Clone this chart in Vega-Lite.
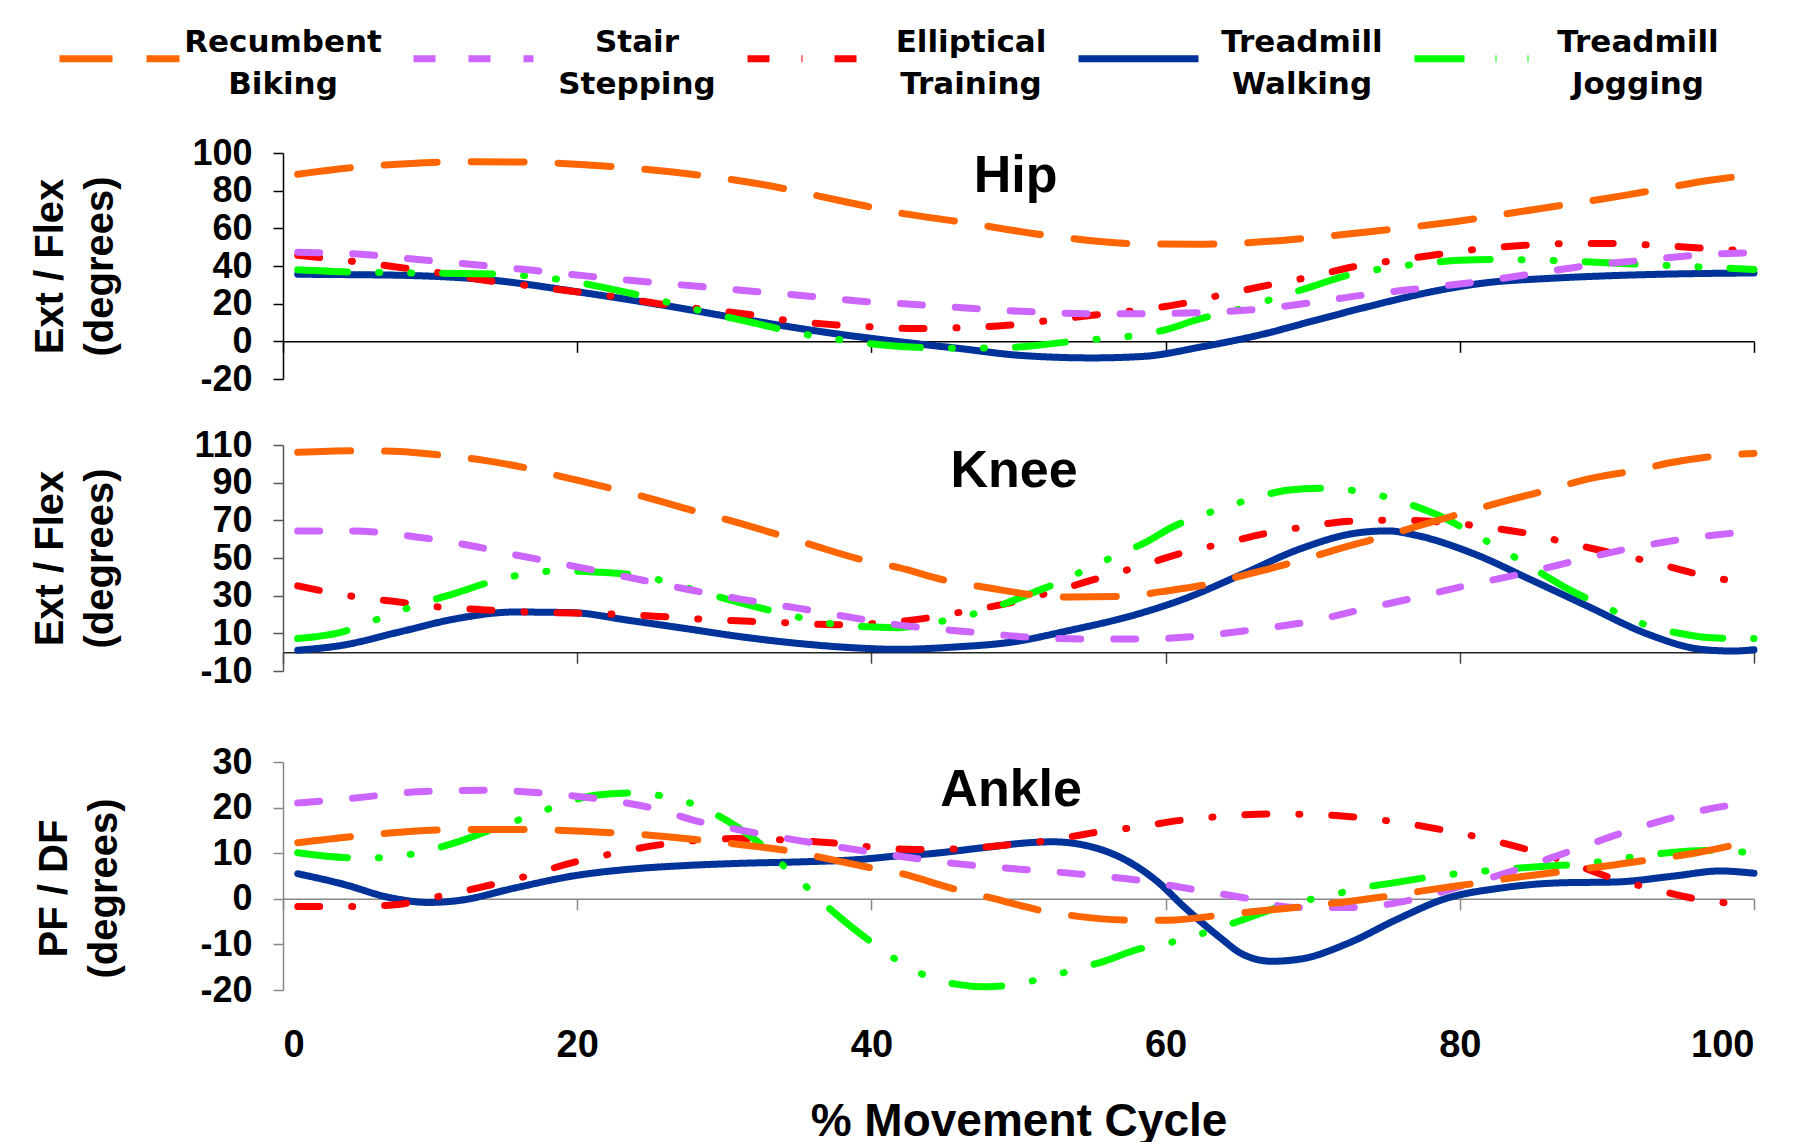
{
"$schema": "https://vega.github.io/schema/vega-lite/v6.json",
"background": "white",
"padding": {"left": 30, "top": -5, "right": 5, "bottom": 0},
"config": {
  "view": {"stroke": null},
  "style": {"guide-label": {"lineHeight": 42}},
  "axis": {"grid": false, "labelOverlap": false, "labelFont": "Liberation Sans", "labelFontWeight": "bold", "labelColor": "#000", "titleFont": "Liberation Sans", "titleFontWeight": "bold", "titleColor": "#000", "domainWidth": 1.5, "tickWidth": 1.5},
  "legend": {"padding": 0, "symbolType": "stroke", "symbolSize": 14400, "symbolStrokeWidth": 7, "labelFont": "DejaVu Sans", "labelFontWeight": "bold", "labelFontSize": 31, "labelColor": "#000", "labelAlign": "center", "labelBaseline": "bottom", "labelOffset": 100, "labelLimit": 400, "columnPadding": 28},
  "line": {"strokeWidth": 7, "strokeCap": "round", "strokeJoin": "round", "interpolate": "monotone"}
},
"datasets": {
"hip": [
{"act":"Treadmill Walking","pct":1,"deg":35.6},{"act":"Treadmill Walking","pct":4.5,"deg":35.4},{"act":"Treadmill Walking","pct":8.4,"deg":35},{"act":"Treadmill Walking","pct":14.3,"deg":32.4},{"act":"Treadmill Walking","pct":20.1,"deg":26.2},{"act":"Treadmill Walking","pct":25.9,"deg":19.1},{"act":"Treadmill Walking","pct":31.7,"deg":11.2},{"act":"Treadmill Walking","pct":37.5,"deg":4.1},{"act":"Treadmill Walking","pct":42.2,"deg":-0.5},{"act":"Treadmill Walking","pct":46.1,"deg":-3.9},{"act":"Treadmill Walking","pct":50,"deg":-7.4},{"act":"Treadmill Walking","pct":55,"deg":-8.8},{"act":"Treadmill Walking","pct":58.5,"deg":-8},{"act":"Treadmill Walking","pct":62.4,"deg":-3},{"act":"Treadmill Walking","pct":66.3,"deg":3.2},{"act":"Treadmill Walking","pct":70.2,"deg":11.2},{"act":"Treadmill Walking","pct":74.1,"deg":19.1},{"act":"Treadmill Walking","pct":78,"deg":26.2},{"act":"Treadmill Walking","pct":81.9,"deg":31.2},{"act":"Treadmill Walking","pct":85.8,"deg":33.3},{"act":"Treadmill Walking","pct":89.7,"deg":34.7},{"act":"Treadmill Walking","pct":93.5,"deg":35.6},{"act":"Treadmill Walking","pct":100,"deg":36.3},
{"act":"Elliptical Training","pct":1,"deg":45.7},{"act":"Elliptical Training","pct":4.7,"deg":42.5},{"act":"Elliptical Training","pct":7.7,"deg":39.5},{"act":"Elliptical Training","pct":10.7,"deg":36.3},{"act":"Elliptical Training","pct":13.7,"deg":32.4},{"act":"Elliptical Training","pct":16.5,"deg":29.7},{"act":"Elliptical Training","pct":19.5,"deg":26.7},{"act":"Elliptical Training","pct":22.4,"deg":23.9},{"act":"Elliptical Training","pct":25.5,"deg":20},{"act":"Elliptical Training","pct":28.3,"deg":17.3},{"act":"Elliptical Training","pct":31.3,"deg":14.7},{"act":"Elliptical Training","pct":34.2,"deg":11.2},{"act":"Elliptical Training","pct":37.1,"deg":9},{"act":"Elliptical Training","pct":40.2,"deg":7.6},{"act":"Elliptical Training","pct":43,"deg":6.8},{"act":"Elliptical Training","pct":46.3,"deg":7.3},{"act":"Elliptical Training","pct":49.2,"deg":8.5},{"act":"Elliptical Training","pct":52.2,"deg":11.2},{"act":"Elliptical Training","pct":55,"deg":13.8},{"act":"Elliptical Training","pct":58.1,"deg":16.5},{"act":"Elliptical Training","pct":61.1,"deg":20},{"act":"Elliptical Training","pct":64,"deg":25},{"act":"Elliptical Training","pct":66.9,"deg":29.7},{"act":"Elliptical Training","pct":69.8,"deg":34.2},{"act":"Elliptical Training","pct":72.7,"deg":39.5},{"act":"Elliptical Training","pct":75.6,"deg":43},{"act":"Elliptical Training","pct":78.6,"deg":46.2},{"act":"Elliptical Training","pct":81.5,"deg":49.2},{"act":"Elliptical Training","pct":84.4,"deg":51},{"act":"Elliptical Training","pct":87.4,"deg":51.9},{"act":"Elliptical Training","pct":90.4,"deg":51.9},{"act":"Elliptical Training","pct":93.3,"deg":51},{"act":"Elliptical Training","pct":96.3,"deg":49.6},{"act":"Elliptical Training","pct":99.5,"deg":48},
{"act":"Treadmill Jogging","pct":1,"deg":38},{"act":"Treadmill Jogging","pct":4.6,"deg":36.8},{"act":"Treadmill Jogging","pct":9.2,"deg":36.3},{"act":"Treadmill Jogging","pct":13.1,"deg":35.9},{"act":"Treadmill Jogging","pct":15,"deg":35.6},{"act":"Treadmill Jogging","pct":17.4,"deg":34.2},{"act":"Treadmill Jogging","pct":19.5,"deg":32},{"act":"Treadmill Jogging","pct":21.6,"deg":28.9},{"act":"Treadmill Jogging","pct":24.9,"deg":23.2},{"act":"Treadmill Jogging","pct":27.4,"deg":18.2},{"act":"Treadmill Jogging","pct":29.4,"deg":14.3},{"act":"Treadmill Jogging","pct":31.7,"deg":10.3},{"act":"Treadmill Jogging","pct":35.2,"deg":4.1},{"act":"Treadmill Jogging","pct":37.4,"deg":1.4},{"act":"Treadmill Jogging","pct":39.5,"deg":-0.9},{"act":"Treadmill Jogging","pct":42,"deg":-2.7},{"act":"Treadmill Jogging","pct":45.7,"deg":-3.7},{"act":"Treadmill Jogging","pct":47.7,"deg":-3.5},{"act":"Treadmill Jogging","pct":50,"deg":-3},{"act":"Treadmill Jogging","pct":53.9,"deg":0.2},{"act":"Treadmill Jogging","pct":58,"deg":3.2},{"act":"Treadmill Jogging","pct":60.1,"deg":6.4},{"act":"Treadmill Jogging","pct":62,"deg":11.2},{"act":"Treadmill Jogging","pct":65.5,"deg":18.2},{"act":"Treadmill Jogging","pct":67.9,"deg":24.1},{"act":"Treadmill Jogging","pct":70,"deg":29.2},{"act":"Treadmill Jogging","pct":72.1,"deg":34.5},{"act":"Treadmill Jogging","pct":75.6,"deg":39.5},{"act":"Treadmill Jogging","pct":77.8,"deg":41.6},{"act":"Treadmill Jogging","pct":80,"deg":43},{"act":"Treadmill Jogging","pct":82.3,"deg":43.4},{"act":"Treadmill Jogging","pct":86.1,"deg":43},{"act":"Treadmill Jogging","pct":90.3,"deg":41.6},{"act":"Treadmill Jogging","pct":92.4,"deg":40.9},{"act":"Treadmill Jogging","pct":96.3,"deg":39.5},{"act":"Treadmill Jogging","pct":100,"deg":38.2},
{"act":"Stair Stepping","pct":1,"deg":47.3},{"act":"Stair Stepping","pct":5.3,"deg":46.2},{"act":"Stair Stepping","pct":9.2,"deg":43.4},{"act":"Stair Stepping","pct":13.1,"deg":40.7},{"act":"Stair Stepping","pct":17,"deg":37.7},{"act":"Stair Stepping","pct":20.9,"deg":34.5},{"act":"Stair Stepping","pct":24.3,"deg":31.9},{"act":"Stair Stepping","pct":28.2,"deg":29.2},{"act":"Stair Stepping","pct":31.7,"deg":26.7},{"act":"Stair Stepping","pct":35.6,"deg":24.1},{"act":"Stair Stepping","pct":39.5,"deg":21.2},{"act":"Stair Stepping","pct":42.2,"deg":20},{"act":"Stair Stepping","pct":47.2,"deg":17.3},{"act":"Stair Stepping","pct":51.1,"deg":15.6},{"act":"Stair Stepping","pct":55,"deg":14.7},{"act":"Stair Stepping","pct":58.5,"deg":14.7},{"act":"Stair Stepping","pct":62.4,"deg":15.2},{"act":"Stair Stepping","pct":65.9,"deg":16.8},{"act":"Stair Stepping","pct":69.8,"deg":20.4},{"act":"Stair Stepping","pct":73.3,"deg":24.4},{"act":"Stair Stepping","pct":77.2,"deg":28},{"act":"Stair Stepping","pct":81.1,"deg":31.5},{"act":"Stair Stepping","pct":85,"deg":35.9},{"act":"Stair Stepping","pct":88.9,"deg":40.4},{"act":"Stair Stepping","pct":92.4,"deg":43},{"act":"Stair Stepping","pct":95.9,"deg":45.7},{"act":"Stair Stepping","pct":100,"deg":47},
{"act":"Recumbent Biking","pct":1,"deg":88.7},{"act":"Recumbent Biking","pct":4.4,"deg":92},{"act":"Recumbent Biking","pct":8.4,"deg":94.3},{"act":"Recumbent Biking","pct":12.3,"deg":95.4},{"act":"Recumbent Biking","pct":16.4,"deg":95.2},{"act":"Recumbent Biking","pct":20.5,"deg":93.8},{"act":"Recumbent Biking","pct":26.5,"deg":89.9},{"act":"Recumbent Biking","pct":32.3,"deg":83.7},{"act":"Recumbent Biking","pct":38.3,"deg":74},{"act":"Recumbent Biking","pct":42.2,"deg":67.8},{"act":"Recumbent Biking","pct":46.1,"deg":63.4},{"act":"Recumbent Biking","pct":51.9,"deg":56.3},{"act":"Recumbent Biking","pct":57.7,"deg":51.9},{"act":"Recumbent Biking","pct":62,"deg":51.5},{"act":"Recumbent Biking","pct":67.9,"deg":53.6},{"act":"Recumbent Biking","pct":73.7,"deg":58.1},{"act":"Recumbent Biking","pct":79.5,"deg":63.4},{"act":"Recumbent Biking","pct":85.4,"deg":70.4},{"act":"Recumbent Biking","pct":91.2,"deg":77.5},{"act":"Recumbent Biking","pct":97,"deg":85.5},{"act":"Recumbent Biking","pct":100,"deg":88.6}
],
"knee": [
{"act":"Treadmill Walking","pct":1,"deg":1},{"act":"Treadmill Walking","pct":4,"deg":3.6},{"act":"Treadmill Walking","pct":7.9,"deg":10.7},{"act":"Treadmill Walking","pct":11.8,"deg":17.8},{"act":"Treadmill Walking","pct":15.7,"deg":21.3},{"act":"Treadmill Walking","pct":19.6,"deg":21},{"act":"Treadmill Walking","pct":23.5,"deg":16.9},{"act":"Treadmill Walking","pct":27.4,"deg":12.5},{"act":"Treadmill Walking","pct":31.3,"deg":8},{"act":"Treadmill Walking","pct":35.2,"deg":4.5},{"act":"Treadmill Walking","pct":39.1,"deg":2.2},{"act":"Treadmill Walking","pct":41.8,"deg":1.5},{"act":"Treadmill Walking","pct":45.6,"deg":2.7},{"act":"Treadmill Walking","pct":49.6,"deg":5.4},{"act":"Treadmill Walking","pct":53.5,"deg":11.6},{"act":"Treadmill Walking","pct":57.4,"deg":18.7},{"act":"Treadmill Walking","pct":61.3,"deg":28.4},{"act":"Treadmill Walking","pct":65.3,"deg":41.7},{"act":"Treadmill Walking","pct":69.2,"deg":55},{"act":"Treadmill Walking","pct":73.1,"deg":63.4},{"act":"Treadmill Walking","pct":75.1,"deg":64.4},{"act":"Treadmill Walking","pct":77,"deg":62.1},{"act":"Treadmill Walking","pct":80.9,"deg":52.4},{"act":"Treadmill Walking","pct":84.9,"deg":38.2},{"act":"Treadmill Walking","pct":88.8,"deg":24},{"act":"Treadmill Walking","pct":92.7,"deg":9.8},{"act":"Treadmill Walking","pct":96.6,"deg":1.3},{"act":"Treadmill Walking","pct":98.6,"deg":0.6},{"act":"Treadmill Walking","pct":100,"deg":1.3},
{"act":"Elliptical Training","pct":1,"deg":35.2},{"act":"Elliptical Training","pct":4.7,"deg":29.7},{"act":"Elliptical Training","pct":7.5,"deg":27},{"act":"Elliptical Training","pct":10.6,"deg":24},{"act":"Elliptical Training","pct":13.4,"deg":22.6},{"act":"Elliptical Training","pct":16.7,"deg":21.3},{"act":"Elliptical Training","pct":19.6,"deg":20.8},{"act":"Elliptical Training","pct":22.7,"deg":20.1},{"act":"Elliptical Training","pct":25.5,"deg":19},{"act":"Elliptical Training","pct":28.7,"deg":17.4},{"act":"Elliptical Training","pct":31.7,"deg":16.4},{"act":"Elliptical Training","pct":34.6,"deg":15.5},{"act":"Elliptical Training","pct":37.5,"deg":14.6},{"act":"Elliptical Training","pct":40.6,"deg":15.4},{"act":"Elliptical Training","pct":43.5,"deg":17.8},{"act":"Elliptical Training","pct":46.5,"deg":21.9},{"act":"Elliptical Training","pct":49.2,"deg":25.8},{"act":"Elliptical Training","pct":52.3,"deg":32},{"act":"Elliptical Training","pct":55.1,"deg":38.5},{"act":"Elliptical Training","pct":58.1,"deg":45.3},{"act":"Elliptical Training","pct":61,"deg":52.4},{"act":"Elliptical Training","pct":63.9,"deg":57.7},{"act":"Elliptical Training","pct":66.8,"deg":63},{"act":"Elliptical Training","pct":69.8,"deg":66.9},{"act":"Elliptical Training","pct":72.7,"deg":69.6},{"act":"Elliptical Training","pct":75.7,"deg":70.1},{"act":"Elliptical Training","pct":78.6,"deg":69.2},{"act":"Elliptical Training","pct":81.6,"deg":66.6},{"act":"Elliptical Training","pct":84.6,"deg":63},{"act":"Elliptical Training","pct":87.5,"deg":57.7},{"act":"Elliptical Training","pct":90.5,"deg":52.4},{"act":"Elliptical Training","pct":93.4,"deg":47.1},{"act":"Elliptical Training","pct":96.2,"deg":41.4},{"act":"Elliptical Training","pct":99.3,"deg":36.8},
{"act":"Treadmill Jogging","pct":1,"deg":7.2},{"act":"Treadmill Jogging","pct":4,"deg":10.7},{"act":"Treadmill Jogging","pct":6.7,"deg":18.3},{"act":"Treadmill Jogging","pct":8.7,"deg":24},{"act":"Treadmill Jogging","pct":11.8,"deg":31.5},{"act":"Treadmill Jogging","pct":14.5,"deg":38.2},{"act":"Treadmill Jogging","pct":16.6,"deg":41.7},{"act":"Treadmill Jogging","pct":18.8,"deg":43.2},{"act":"Treadmill Jogging","pct":21.2,"deg":42.6},{"act":"Treadmill Jogging","pct":24.7,"deg":40},{"act":"Treadmill Jogging","pct":26.8,"deg":35.6},{"act":"Treadmill Jogging","pct":29,"deg":30.7},{"act":"Treadmill Jogging","pct":31.3,"deg":25.8},{"act":"Treadmill Jogging","pct":34.8,"deg":19},{"act":"Treadmill Jogging","pct":36.9,"deg":15.5},{"act":"Treadmill Jogging","pct":39.1,"deg":13.7},{"act":"Treadmill Jogging","pct":41.8,"deg":13},{"act":"Treadmill Jogging","pct":44.1,"deg":15.5},{"act":"Treadmill Jogging","pct":47.2,"deg":20.8},{"act":"Treadmill Jogging","pct":49.2,"deg":26.1},{"act":"Treadmill Jogging","pct":51.1,"deg":32},{"act":"Treadmill Jogging","pct":53.1,"deg":38.2},{"act":"Treadmill Jogging","pct":54.7,"deg":44.4},{"act":"Treadmill Jogging","pct":56.7,"deg":51.5},{"act":"Treadmill Jogging","pct":58.7,"deg":58.6},{"act":"Treadmill Jogging","pct":60.5,"deg":66.6},{"act":"Treadmill Jogging","pct":62.5,"deg":72.8},{"act":"Treadmill Jogging","pct":64.3,"deg":77.6},{"act":"Treadmill Jogging","pct":66.3,"deg":82.5},{"act":"Treadmill Jogging","pct":68.4,"deg":86.1},{"act":"Treadmill Jogging","pct":70.5,"deg":87},{"act":"Treadmill Jogging","pct":72.5,"deg":86.1},{"act":"Treadmill Jogging","pct":74.5,"deg":83.4},{"act":"Treadmill Jogging","pct":76.4,"deg":79},{"act":"Treadmill Jogging","pct":78.5,"deg":72.8},{"act":"Treadmill Jogging","pct":80.5,"deg":64.8},{"act":"Treadmill Jogging","pct":82.1,"deg":57.7},{"act":"Treadmill Jogging","pct":83.7,"deg":50.6},{"act":"Treadmill Jogging","pct":85.6,"deg":41.7},{"act":"Treadmill Jogging","pct":87.5,"deg":32.9},{"act":"Treadmill Jogging","pct":89.4,"deg":25.8},{"act":"Treadmill Jogging","pct":91.1,"deg":19.6},{"act":"Treadmill Jogging","pct":92.7,"deg":14.3},{"act":"Treadmill Jogging","pct":95.1,"deg":9.8},{"act":"Treadmill Jogging","pct":97.2,"deg":7.6},{"act":"Treadmill Jogging","pct":100,"deg":7.2},
{"act":"Stair Stepping","pct":1,"deg":64.3},{"act":"Stair Stepping","pct":4.8,"deg":64.3},{"act":"Stair Stepping","pct":8.7,"deg":61.6},{"act":"Stair Stepping","pct":12.6,"deg":56.8},{"act":"Stair Stepping","pct":15.7,"deg":51.8},{"act":"Stair Stepping","pct":20,"deg":45.3},{"act":"Stair Stepping","pct":23.9,"deg":39.1},{"act":"Stair Stepping","pct":27.8,"deg":32.9},{"act":"Stair Stepping","pct":31.3,"deg":27.9},{"act":"Stair Stepping","pct":35.2,"deg":23.1},{"act":"Stair Stepping","pct":39.1,"deg":17.8},{"act":"Stair Stepping","pct":41.8,"deg":14.5},{"act":"Stair Stepping","pct":46.8,"deg":10.7},{"act":"Stair Stepping","pct":50.7,"deg":8},{"act":"Stair Stepping","pct":54.3,"deg":7},{"act":"Stair Stepping","pct":58.2,"deg":7},{"act":"Stair Stepping","pct":62.1,"deg":8.4},{"act":"Stair Stepping","pct":65.6,"deg":11.6},{"act":"Stair Stepping","pct":69.6,"deg":16},{"act":"Stair Stepping","pct":73.1,"deg":22.2},{"act":"Stair Stepping","pct":77,"deg":29},{"act":"Stair Stepping","pct":80.5,"deg":35.5},{"act":"Stair Stepping","pct":84.5,"deg":42.1},{"act":"Stair Stepping","pct":88,"deg":48.8},{"act":"Stair Stepping","pct":91.5,"deg":55},{"act":"Stair Stepping","pct":95.5,"deg":60.4},{"act":"Stair Stepping","pct":100,"deg":64.3},
{"act":"Recumbent Biking","pct":1,"deg":106.1},{"act":"Recumbent Biking","pct":4.6,"deg":107},{"act":"Recumbent Biking","pct":7.9,"deg":106.5},{"act":"Recumbent Biking","pct":10.6,"deg":104.7},{"act":"Recumbent Biking","pct":13.8,"deg":101.7},{"act":"Recumbent Biking","pct":16.7,"deg":97.5},{"act":"Recumbent Biking","pct":18.8,"deg":93.5},{"act":"Recumbent Biking","pct":22.3,"deg":87},{"act":"Recumbent Biking","pct":24.7,"deg":82.2},{"act":"Recumbent Biking","pct":28.2,"deg":74.5},{"act":"Recumbent Biking","pct":30.3,"deg":70.1},{"act":"Recumbent Biking","pct":34,"deg":61.6},{"act":"Recumbent Biking","pct":36,"deg":56.8},{"act":"Recumbent Biking","pct":39.5,"deg":48.8},{"act":"Recumbent Biking","pct":41.8,"deg":45},{"act":"Recumbent Biking","pct":45.5,"deg":37.3},{"act":"Recumbent Biking","pct":47.6,"deg":34.6},{"act":"Recumbent Biking","pct":51.3,"deg":30.2},{"act":"Recumbent Biking","pct":53.5,"deg":29.3},{"act":"Recumbent Biking","pct":57.4,"deg":29.7},{"act":"Recumbent Biking","pct":59.6,"deg":32},{"act":"Recumbent Biking","pct":63.3,"deg":36.8},{"act":"Recumbent Biking","pct":65.3,"deg":40.8},{"act":"Recumbent Biking","pct":69.2,"deg":48.8},{"act":"Recumbent Biking","pct":71.1,"deg":53.3},{"act":"Recumbent Biking","pct":75.1,"deg":62.1},{"act":"Recumbent Biking","pct":77,"deg":66.6},{"act":"Recumbent Biking","pct":80.5,"deg":74.5},{"act":"Recumbent Biking","pct":82.5,"deg":79},{"act":"Recumbent Biking","pct":86.4,"deg":87},{"act":"Recumbent Biking","pct":88.4,"deg":91.4},{"act":"Recumbent Biking","pct":92.3,"deg":97.1},{"act":"Recumbent Biking","pct":94.3,"deg":100.6},{"act":"Recumbent Biking","pct":98.2,"deg":104.7},{"act":"Recumbent Biking","pct":100,"deg":105.5}
],
"ankle": [
{"act":"Treadmill Walking","pct":1,"deg":5.5},{"act":"Treadmill Walking","pct":4.1,"deg":3.2},{"act":"Treadmill Walking","pct":7.2,"deg":0.3},{"act":"Treadmill Walking","pct":9.9,"deg":-0.8},{"act":"Treadmill Walking","pct":11.9,"deg":-0.4},{"act":"Treadmill Walking","pct":15.8,"deg":2.4},{"act":"Treadmill Walking","pct":19.7,"deg":5},{"act":"Treadmill Walking","pct":23.6,"deg":6.5},{"act":"Treadmill Walking","pct":27.4,"deg":7.3},{"act":"Treadmill Walking","pct":31.3,"deg":7.8},{"act":"Treadmill Walking","pct":35.2,"deg":8.1},{"act":"Treadmill Walking","pct":39.1,"deg":8.6},{"act":"Treadmill Walking","pct":41.8,"deg":9.4},{"act":"Treadmill Walking","pct":43.7,"deg":9.8},{"act":"Treadmill Walking","pct":47.6,"deg":11.2},{"act":"Treadmill Walking","pct":50.7,"deg":12.3},{"act":"Treadmill Walking","pct":52.3,"deg":12.5},{"act":"Treadmill Walking","pct":54.7,"deg":11.6},{"act":"Treadmill Walking","pct":57.4,"deg":8.3},{"act":"Treadmill Walking","pct":59.4,"deg":3.9},{"act":"Treadmill Walking","pct":61.3,"deg":-1.9},{"act":"Treadmill Walking","pct":63.7,"deg":-8.5},{"act":"Treadmill Walking","pct":65.2,"deg":-12.1},{"act":"Treadmill Walking","pct":67.2,"deg":-13.7},{"act":"Treadmill Walking","pct":69.2,"deg":-13.2},{"act":"Treadmill Walking","pct":72.3,"deg":-9.9},{"act":"Treadmill Walking","pct":75.8,"deg":-4.4},{"act":"Treadmill Walking","pct":78.9,"deg":-0.1},{"act":"Treadmill Walking","pct":82.9,"deg":2.4},{"act":"Treadmill Walking","pct":86.8,"deg":3.5},{"act":"Treadmill Walking","pct":90.7,"deg":3.7},{"act":"Treadmill Walking","pct":94.6,"deg":5},{"act":"Treadmill Walking","pct":97.7,"deg":6.1},{"act":"Treadmill Walking","pct":100,"deg":5.6},
{"act":"Elliptical Training","pct":1,"deg":-1.7},{"act":"Elliptical Training","pct":4.8,"deg":-1.7},{"act":"Elliptical Training","pct":7.6,"deg":-1.3},{"act":"Elliptical Training","pct":10.7,"deg":0.6},{"act":"Elliptical Training","pct":13.4,"deg":2.5},{"act":"Elliptical Training","pct":16.6,"deg":5},{"act":"Elliptical Training","pct":19.3,"deg":7.6},{"act":"Elliptical Training","pct":22.4,"deg":9.9},{"act":"Elliptical Training","pct":25.1,"deg":11.6},{"act":"Elliptical Training","pct":27.8,"deg":12.7},{"act":"Elliptical Training","pct":30.9,"deg":13.2},{"act":"Elliptical Training","pct":34.2,"deg":12.9},{"act":"Elliptical Training","pct":37.2,"deg":12.3},{"act":"Elliptical Training","pct":40.2,"deg":11.3},{"act":"Elliptical Training","pct":42.9,"deg":10.8},{"act":"Elliptical Training","pct":46.1,"deg":11},{"act":"Elliptical Training","pct":49.2,"deg":11.8},{"act":"Elliptical Training","pct":52.1,"deg":12.8},{"act":"Elliptical Training","pct":55.1,"deg":14.5},{"act":"Elliptical Training","pct":58,"deg":15.7},{"act":"Elliptical Training","pct":61,"deg":17.2},{"act":"Elliptical Training","pct":63.9,"deg":18.1},{"act":"Elliptical Training","pct":67,"deg":18.6},{"act":"Elliptical Training","pct":70,"deg":18.5},{"act":"Elliptical Training","pct":72.9,"deg":17.9},{"act":"Elliptical Training","pct":75.8,"deg":16.8},{"act":"Elliptical Training","pct":78.7,"deg":15.2},{"act":"Elliptical Training","pct":81.7,"deg":13.2},{"act":"Elliptical Training","pct":84.6,"deg":10.8},{"act":"Elliptical Training","pct":87.5,"deg":7.9},{"act":"Elliptical Training","pct":90.3,"deg":4.6},{"act":"Elliptical Training","pct":93.2,"deg":2.1},{"act":"Elliptical Training","pct":96.2,"deg":-0.1},{"act":"Elliptical Training","pct":99.1,"deg":-1.2},
{"act":"Treadmill Jogging","pct":1,"deg":10.1},{"act":"Treadmill Jogging","pct":4.9,"deg":9},{"act":"Treadmill Jogging","pct":7,"deg":9},{"act":"Treadmill Jogging","pct":9.2,"deg":10.1},{"act":"Treadmill Jogging","pct":11.5,"deg":12.1},{"act":"Treadmill Jogging","pct":14.8,"deg":15.9},{"act":"Treadmill Jogging","pct":16.9,"deg":18.3},{"act":"Treadmill Jogging","pct":18.9,"deg":20.7},{"act":"Treadmill Jogging","pct":21.2,"deg":22.7},{"act":"Treadmill Jogging","pct":23.6,"deg":23.2},{"act":"Treadmill Jogging","pct":24.7,"deg":23},{"act":"Treadmill Jogging","pct":26.9,"deg":21.8},{"act":"Treadmill Jogging","pct":29,"deg":19.2},{"act":"Treadmill Jogging","pct":30.9,"deg":15.7},{"act":"Treadmill Jogging","pct":32.5,"deg":11.9},{"act":"Treadmill Jogging","pct":33.9,"deg":7.6},{"act":"Treadmill Jogging","pct":35.4,"deg":3.2},{"act":"Treadmill Jogging","pct":37,"deg":-1.7},{"act":"Treadmill Jogging","pct":38.7,"deg":-6.3},{"act":"Treadmill Jogging","pct":40.3,"deg":-10.2},{"act":"Treadmill Jogging","pct":41.8,"deg":-13.6},{"act":"Treadmill Jogging","pct":43.5,"deg":-16.6},{"act":"Treadmill Jogging","pct":45.7,"deg":-18.7},{"act":"Treadmill Jogging","pct":47.8,"deg":-19.3},{"act":"Treadmill Jogging","pct":51.5,"deg":-17.6},{"act":"Treadmill Jogging","pct":53.7,"deg":-15.6},{"act":"Treadmill Jogging","pct":55.9,"deg":-13.6},{"act":"Treadmill Jogging","pct":57.8,"deg":-11.4},{"act":"Treadmill Jogging","pct":61.3,"deg":-8.8},{"act":"Treadmill Jogging","pct":63.7,"deg":-6.3},{"act":"Treadmill Jogging","pct":65.7,"deg":-4.1},{"act":"Treadmill Jogging","pct":67.6,"deg":-1.9},{"act":"Treadmill Jogging","pct":69.9,"deg":-0.1},{"act":"Treadmill Jogging","pct":71.5,"deg":1},{"act":"Treadmill Jogging","pct":73.5,"deg":2.5},{"act":"Treadmill Jogging","pct":75.7,"deg":3.6},{"act":"Treadmill Jogging","pct":77.8,"deg":4.7},{"act":"Treadmill Jogging","pct":81.7,"deg":6.1},{"act":"Treadmill Jogging","pct":86,"deg":7.2},{"act":"Treadmill Jogging","pct":88.1,"deg":7.6},{"act":"Treadmill Jogging","pct":91.9,"deg":9.2},{"act":"Treadmill Jogging","pct":94.2,"deg":10.1},{"act":"Treadmill Jogging","pct":96.6,"deg":10.6},{"act":"Treadmill Jogging","pct":100,"deg":10.1},
{"act":"Stair Stepping","pct":1,"deg":21},{"act":"Stair Stepping","pct":4.9,"deg":22.1},{"act":"Stair Stepping","pct":8.8,"deg":23.4},{"act":"Stair Stepping","pct":13.8,"deg":23.8},{"act":"Stair Stepping","pct":17.7,"deg":23.2},{"act":"Stair Stepping","pct":21.2,"deg":22},{"act":"Stair Stepping","pct":25.1,"deg":19.9},{"act":"Stair Stepping","pct":28.2,"deg":17},{"act":"Stair Stepping","pct":30.9,"deg":15.2},{"act":"Stair Stepping","pct":35.2,"deg":12.7},{"act":"Stair Stepping","pct":39.9,"deg":10.3},{"act":"Stair Stepping","pct":41.8,"deg":9.4},{"act":"Stair Stepping","pct":46.1,"deg":7.6},{"act":"Stair Stepping","pct":50.8,"deg":6.3},{"act":"Stair Stepping","pct":54.3,"deg":5.4},{"act":"Stair Stepping","pct":58.3,"deg":4},{"act":"Stair Stepping","pct":61.8,"deg":2.1},{"act":"Stair Stepping","pct":65.2,"deg":0.3},{"act":"Stair Stepping","pct":68.8,"deg":-1.9},{"act":"Stair Stepping","pct":72.7,"deg":-1.9},{"act":"Stair Stepping","pct":76.6,"deg":-0.3},{"act":"Stair Stepping","pct":80.1,"deg":2.8},{"act":"Stair Stepping","pct":84,"deg":6.5},{"act":"Stair Stepping","pct":87.2,"deg":10.1},{"act":"Stair Stepping","pct":91.1,"deg":14.5},{"act":"Stair Stepping","pct":94.6,"deg":17.9},{"act":"Stair Stepping","pct":98.9,"deg":20.7},{"act":"Stair Stepping","pct":100,"deg":21},
{"act":"Recumbent Biking","pct":1,"deg":12.3},{"act":"Recumbent Biking","pct":4.9,"deg":13.7},{"act":"Recumbent Biking","pct":8.8,"deg":14.8},{"act":"Recumbent Biking","pct":12.7,"deg":15.2},{"act":"Recumbent Biking","pct":16.6,"deg":15.2},{"act":"Recumbent Biking","pct":20.4,"deg":14.8},{"act":"Recumbent Biking","pct":25.1,"deg":13.9},{"act":"Recumbent Biking","pct":28.6,"deg":12.8},{"act":"Recumbent Biking","pct":31.3,"deg":11.8},{"act":"Recumbent Biking","pct":34.4,"deg":10.5},{"act":"Recumbent Biking","pct":36.4,"deg":9.2},{"act":"Recumbent Biking","pct":40.3,"deg":6.6},{"act":"Recumbent Biking","pct":41.8,"deg":5.7},{"act":"Recumbent Biking","pct":45.7,"deg":2.1},{"act":"Recumbent Biking","pct":48,"deg":0.3},{"act":"Recumbent Biking","pct":51.9,"deg":-2.8},{"act":"Recumbent Biking","pct":53.9,"deg":-3.8},{"act":"Recumbent Biking","pct":57.8,"deg":-4.7},{"act":"Recumbent Biking","pct":60.2,"deg":-4.7},{"act":"Recumbent Biking","pct":63.7,"deg":-3.6},{"act":"Recumbent Biking","pct":66,"deg":-2.8},{"act":"Recumbent Biking","pct":69.5,"deg":-1.7},{"act":"Recumbent Biking","pct":71.9,"deg":-0.8},{"act":"Recumbent Biking","pct":75.4,"deg":0.7},{"act":"Recumbent Biking","pct":77.8,"deg":1.9},{"act":"Recumbent Biking","pct":81.3,"deg":3.5},{"act":"Recumbent Biking","pct":83.6,"deg":4.6},{"act":"Recumbent Biking","pct":87.2,"deg":6.1},{"act":"Recumbent Biking","pct":89.5,"deg":7},{"act":"Recumbent Biking","pct":93,"deg":8.6},{"act":"Recumbent Biking","pct":95.4,"deg":9.7},{"act":"Recumbent Biking","pct":99.1,"deg":12.1}
]
},
"vconcat": [
{"vconcat": [
{
  "width": 1471, "height": 226,
  "data": {"name": "hip"},
  "layer": [
    {"mark": {"type": "line"},
     "encoding": {
       "x": {"field": "pct", "type": "quantitative", "scale": {"domain": [0, 100], "nice": false}, "axis": {"values": [0,20,40,60,80,100], "tickCount": 20, "labels": false, "title": null, "offset": -37.67, "tickSize": 11, "domainColor": "#000", "tickColor": "#000"}},
       "y": {"field": "deg", "type": "quantitative", "scale": {"domain": [-20, 100], "nice": false}, "axis": {"values": [-20,0,20,40,60,80,100], "tickCount": 20, "labelOverlap": false, "labelExpr": "'' + datum.value", "tickSize": 10, "labelFontSize": 36, "labelPadding": 21, "domainColor": "#000", "tickColor": "#000", "title": ["Ext / Flex", "(degrees)"], "titleFontSize": 40, "titleLineHeight": 50, "titleX": -213, "titleY": 113}},
       "color": {"field": "act", "type": "nominal", "scale": {"domain": ["Recumbent Biking","Stair Stepping","Elliptical Training","Treadmill Walking","Treadmill Jogging"], "range": ["#FF6600","#CC66FF","#FF0000","#003399","#00FF00"]}, "legend": {"title": null, "orient": "none", "legendX": -227, "legendY": -158, "direction": "horizontal", "columns": 5, "labelExpr": "split(datum.label, ' ')"}},
       "strokeDash": {"field": "act", "type": "nominal", "scale": {"domain": ["Recumbent Biking","Stair Stepping","Elliptical Training","Treadmill Walking","Treadmill Jogging"], "range": [[53,34],[22,33],[22,32,1,32],[1,0],[50,31,1,31,1,31]]}, "legend": {"title": null, "orient": "none", "legendX": -227, "legendY": -158, "direction": "horizontal", "columns": 5, "labelExpr": "split(datum.label, ' ')"}}
     }},
    {"data": {"values": [{"joint": "Hip"}]},
     "mark": {"type": "text", "font": "Liberation Sans", "fontWeight": "bold", "fontSize": 52, "align": "center", "baseline": "alphabetic", "color": "#000"},
     "encoding": {"text": {"field": "joint"}, "x": {"datum": 49.8}, "y": {"datum": 79.3}}}
  ]
},
{
  "width": 1471, "height": 226,
  "data": {"name": "knee"},
  "layer": [
    {"mark": {"type": "line"},
     "encoding": {
       "x": {"field": "pct", "type": "quantitative", "scale": {"domain": [0, 100], "nice": false}, "axis": {"values": [0,20,40,60,80,100], "tickCount": 20, "labels": false, "title": null, "offset": -18.83, "tickSize": 11, "domainColor": "#222", "tickColor": "#444"}},
       "y": {"field": "deg", "type": "quantitative", "scale": {"domain": [-10, 110], "nice": false}, "axis": {"values": [-10,10,30,50,70,90,110], "tickCount": 20, "labelOverlap": false, "labelExpr": "'' + datum.value", "tickSize": 10, "labelFontSize": 36, "labelPadding": 21, "domainColor": "#555", "tickColor": "#555", "title": ["Ext / Flex", "(degrees)"], "titleFontSize": 40, "titleLineHeight": 50, "titleX": -213, "titleY": 113}},
       "color": {"field": "act", "type": "nominal", "scale": {"domain": ["Recumbent Biking","Stair Stepping","Elliptical Training","Treadmill Walking","Treadmill Jogging"], "range": ["#FF6600","#CC66FF","#FF0000","#003399","#00FF00"]}, "legend": {"title": null, "orient": "none", "legendX": -227, "legendY": -158, "direction": "horizontal", "columns": 5, "labelExpr": "split(datum.label, ' ')"}},
       "strokeDash": {"field": "act", "type": "nominal", "scale": {"domain": ["Recumbent Biking","Stair Stepping","Elliptical Training","Treadmill Walking","Treadmill Jogging"], "range": [[53,34],[22,33],[22,32,1,32],[1,0],[50,31,1,31,1,31]]}, "legend": {"title": null, "orient": "none", "legendX": -227, "legendY": -158, "direction": "horizontal", "columns": 5, "labelExpr": "split(datum.label, ' ')"}}
     }},
    {"data": {"values": [{"joint": "Knee"}]},
     "mark": {"type": "text", "font": "Liberation Sans", "fontWeight": "bold", "fontSize": 52, "align": "center", "baseline": "alphabetic", "color": "#000"},
     "encoding": {"text": {"field": "joint"}, "x": {"datum": 49.7}, "y": {"datum": 87.9}}}
  ]
}
], "spacing": 66, "bounds": "flush"},
{
  "width": 1471, "height": 228,
  "data": {"name": "ankle"},
  "layer": [
    {"mark": {"type": "line"},
     "encoding": {
       "x": {"field": "pct", "type": "quantitative", "scale": {"domain": [0, 100], "nice": false}, "axis": {"values": [0,20,40,60,80,100], "tickCount": 20, "labels": true, "labelOverlap": false, "labelFontSize": 38, "labelPadding": 117, "title": "% Movement Cycle", "titleFontSize": 46, "titlePadding": 35, "offset": -91.2, "tickSize": 11, "domainColor": "#888", "tickColor": "#888"}},
       "y": {"field": "deg", "type": "quantitative", "scale": {"domain": [-20, 30], "nice": false}, "axis": {"values": [-20,-10,0,10,20,30], "tickCount": 20, "labelOverlap": false, "labelExpr": "'' + datum.value", "tickSize": 10, "labelFontSize": 36, "labelPadding": 21, "domainColor": "#888", "tickColor": "#888", "title": ["PF / DF", "(degrees)"], "titleFontSize": 40, "titleLineHeight": 50, "titleX": -209, "titleY": 126}},
       "color": {"field": "act", "type": "nominal", "scale": {"domain": ["Recumbent Biking","Stair Stepping","Elliptical Training","Treadmill Walking","Treadmill Jogging"], "range": ["#FF6600","#CC66FF","#FF0000","#003399","#00FF00"]}, "legend": {"title": null, "orient": "none", "legendX": -227, "legendY": -158, "direction": "horizontal", "columns": 5, "labelExpr": "split(datum.label, ' ')"}},
       "strokeDash": {"field": "act", "type": "nominal", "scale": {"domain": ["Recumbent Biking","Stair Stepping","Elliptical Training","Treadmill Walking","Treadmill Jogging"], "range": [[53,34],[22,33],[22,32,1,32],[1,0],[50,31,1,31,1,31]]}, "legend": {"title": null, "orient": "none", "legendX": -227, "legendY": -158, "direction": "horizontal", "columns": 5, "labelExpr": "split(datum.label, ' ')"}}
     }},
    {"data": {"values": [{"joint": "Ankle"}]},
     "mark": {"type": "text", "font": "Liberation Sans", "fontWeight": "bold", "fontSize": 52, "align": "center", "baseline": "alphabetic", "color": "#000"},
     "encoding": {"text": {"field": "joint"}, "x": {"datum": 49.5}, "y": {"datum": 20.3}}}
  ]
}
],
"spacing": 55
}
